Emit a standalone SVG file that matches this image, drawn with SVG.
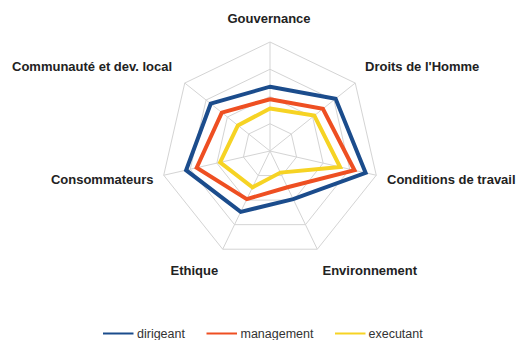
<svg xmlns="http://www.w3.org/2000/svg" width="516" height="340" viewBox="0 0 516 340">
<style>
.grid{fill:none;stroke:#d4d4d4;stroke-width:1}
.s{fill:none;stroke-width:4;stroke-linejoin:miter}
.lbl{font-family:"Liberation Sans",Arial,sans-serif;font-size:13px;font-weight:bold;fill:#222}
.leg{font-family:"Liberation Sans",Arial,sans-serif;font-size:12.5px;fill:#333}
</style>
<rect width="516" height="340" fill="#fff"/>
<g id="grid">
<polygon class="grid" points="270,42 355.22,83.04 376.27,175.25 317.29,249.21 222.71,249.21 163.73,175.25 184.78,83.04"/>
<polygon class="grid" points="270,69.25 333.91,100.03 349.7,169.19 305.47,224.65 234.53,224.65 190.3,169.19 206.09,100.03"/>
<polygon class="grid" points="270,96.5 312.61,117.02 323.13,163.13 293.65,200.1 246.35,200.1 216.87,163.13 227.39,117.02"/>
<polygon class="grid" points="270,123.75 291.3,134.01 296.57,157.06 281.82,175.55 258.18,175.55 243.43,157.06 248.7,134.01"/>
<path class="grid" d="M270,151L270,42M270,151L355.22,83.04M270,151L376.27,175.25M270,151L317.29,249.21M270,151L222.71,249.21M270,151L163.73,175.25M270,151L184.78,83.04"/>
</g>
<g id="series">
<polygon id="dirigeant" class="s" stroke="#1b4c8c" points="270,86.7 335.6,98.7 365.6,172.8 293.2,199.1 240.7,211.9 186.1,170.2 210.7,103.7"/>
<polygon id="management" class="s" stroke="#ee4f22" points="270,99.2 322.9,108.9 354.5,170.3 287.5,187.3 246.8,199.1 196.7,167.7 221.8,112.6"/>
<polygon id="executant" class="s" stroke="#f6d324" stroke-width="4.5" points="270,108.5 314.3,115.6 340.1,167 280.4,172.6 252.5,187.3 220.1,162.4 237.9,125.4"/>
</g>
<g id="labels">
<g id="gouvernance"><text class="lbl" x="269" y="23" text-anchor="middle">Gouvernance</text></g>
<g id="droits"><text class="lbl" x="365" y="71">Droits de l'Homme</text></g>
<g id="conditions"><text class="lbl" x="387" y="184">Conditions de travail</text></g>
<g id="environnement"><text class="lbl" x="322.5" y="275">Environnement</text></g>
<g id="ethique"><text class="lbl" x="170.5" y="275">Ethique</text></g>
<g id="consommateurs"><text class="lbl" x="153.5" y="183.5" text-anchor="end">Consommateurs</text></g>
<g id="communaute"><text class="lbl" x="12" y="70.5">Communauté et dev. local</text></g>
</g>
<g id="legend">
<line x1="103" y1="333.5" x2="133.5" y2="333.5" stroke="#1b4c8c" stroke-width="2"/>
<text class="leg" x="137" y="338">dirigeant</text>
<line x1="206.5" y1="333.5" x2="237" y2="333.5" stroke="#ee4f22" stroke-width="2"/>
<text class="leg" x="240.5" y="338">management</text>
<line x1="335" y1="333.5" x2="365.5" y2="333.5" stroke="#f6d324" stroke-width="2"/>
<text class="leg" x="368.5" y="338">executant</text>
</g>
</svg>
